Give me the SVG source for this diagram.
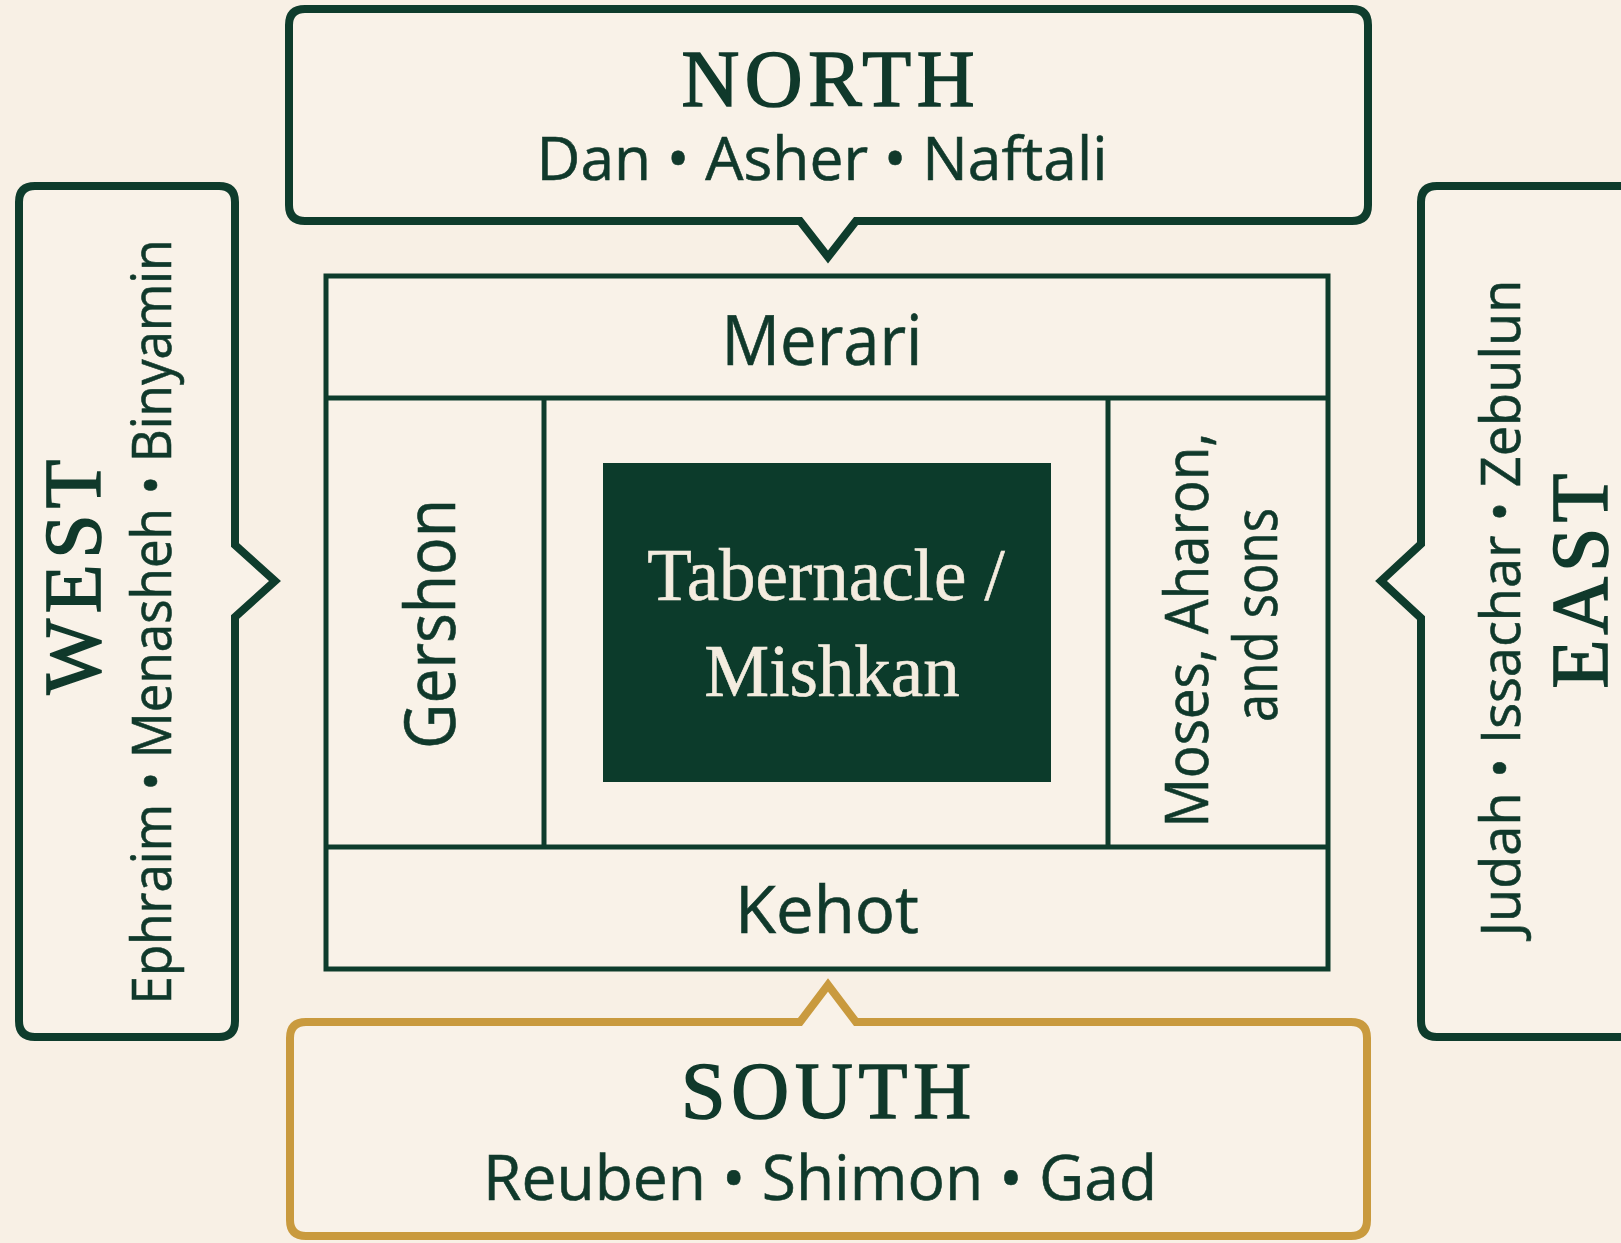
<svg xmlns="http://www.w3.org/2000/svg" width="1621" height="1243" viewBox="0 0 1621 1243">
<style>
.bg{fill:#F8F0E5}
.box{fill:#F9F2E8;stroke:#0E3C2C;stroke-width:8;stroke-linejoin:miter}
.gold{fill:#F9F2E8;stroke:#C99A3E;stroke-width:8;stroke-linejoin:miter}
.frame{fill:#F9F2E8;stroke:#0E3C2C;stroke-width:5}
.ln{stroke:#0E3C2C;stroke-width:5;fill:none}
.dir{font-family:"Liberation Serif","Times New Roman",serif;font-weight:normal;font-size:80px;fill:#10392B;stroke:#10392B;stroke-width:1.6px;text-anchor:middle}
.tr{font-family:"Open Sans","Noto Sans",sans-serif;font-weight:500;fill:#10392B;stroke:#10392B;stroke-width:0.6px;text-anchor:middle}
.ctr{font-family:"Liberation Serif","Times New Roman",serif;font-size:73px;fill:#F4ECDF;stroke:#F4ECDF;stroke-width:0.6px;text-anchor:middle}
</style>
<rect class="bg" x="0" y="0" width="1621" height="1243"/>

<g id="north">
<path class="box" d="M305 9H1352Q1368 9 1368 25V205Q1368 221 1352 221H856L828 257L800 221H305Q289 221 289 205V25Q289 9 305 9Z"/>
<text class="dir" x="828" y="106" textLength="293" lengthAdjust="spacing">NORTH</text>
<text class="tr" x="822" y="180" font-size="61" textLength="571" lengthAdjust="spacingAndGlyphs">Dan • Asher • Naftali</text>
</g>

<g id="west">
<path class="box" d="M35 186H219Q235 186 235 202V545L275 581L235 617V1021Q235 1037 219 1037H35Q19 1037 19 1021V202Q19 186 35 186Z"/>
<text class="dir" transform="translate(100,577) rotate(-90)" textLength="235" lengthAdjust="spacing">WEST</text>
<text class="tr" transform="translate(171,622) rotate(-90)" font-size="54" textLength="765" lengthAdjust="spacingAndGlyphs">Ephraim • Menasheh • Binyamin</text>
</g>

<g id="east">
<path class="box" d="M1660 186H1437Q1421 186 1421 202V544L1381 581L1421 618V1021Q1421 1037 1437 1037H1660Z"/>
<text class="tr" transform="translate(1520,608) rotate(-90)" font-size="54" textLength="657" lengthAdjust="spacingAndGlyphs">Judah • Issachar • Zebulun</text>
<text class="dir" transform="translate(1607,581) rotate(-90)" textLength="215" lengthAdjust="spacing">EAST</text>
</g>

<g id="south">
<path class="gold" d="M306 1022H800L828 985L856 1022H1351Q1367 1022 1367 1038V1220Q1367 1236 1351 1236H306Q290 1236 290 1220V1038Q290 1022 306 1022Z"/>
<text class="dir" x="826" y="1118" textLength="290" lengthAdjust="spacing">SOUTH</text>
<text class="tr" x="820" y="1200" font-size="63" textLength="674" lengthAdjust="spacingAndGlyphs">Reuben • Shimon • Gad</text>
</g>

<g id="camp">
<rect class="frame" x="326" y="276" width="1002" height="693"/>
<g id="connectors">
<line class="ln" x1="326" y1="398" x2="1328" y2="398"/>
<line class="ln" x1="326" y1="847" x2="1328" y2="847"/>
<line class="ln" x1="544" y1="398" x2="544" y2="847"/>
<line class="ln" x1="1108" y1="398" x2="1108" y2="847"/>
</g>
</g>

<g id="merari">
<text class="tr" x="822" y="365" font-size="69" textLength="201" lengthAdjust="spacingAndGlyphs">Merari</text>
</g>
<g id="kehot">
<text class="tr" x="827" y="933" font-size="65" textLength="184" lengthAdjust="spacingAndGlyphs">Kehot</text>
</g>
<g id="gershon">
<text class="tr" transform="translate(455,624) rotate(-90)" font-size="69" textLength="250" lengthAdjust="spacingAndGlyphs">Gershon</text>
</g>
<g id="moses">
<text class="tr" transform="translate(1208,630) rotate(-90)" font-size="60" textLength="395" lengthAdjust="spacingAndGlyphs">Moses, Aharon,</text>
<text class="tr" transform="translate(1277,615) rotate(-90)" font-size="60" textLength="214" lengthAdjust="spacingAndGlyphs">and sons</text>
</g>

<g id="tabernacle">
<rect x="603" y="463" width="448" height="319" fill="#0C3B2B"/>
<text class="ctr" x="826" y="600">Tabernacle /</text>
<text class="ctr" x="832" y="696">Mishkan</text>
</g>
</svg>
